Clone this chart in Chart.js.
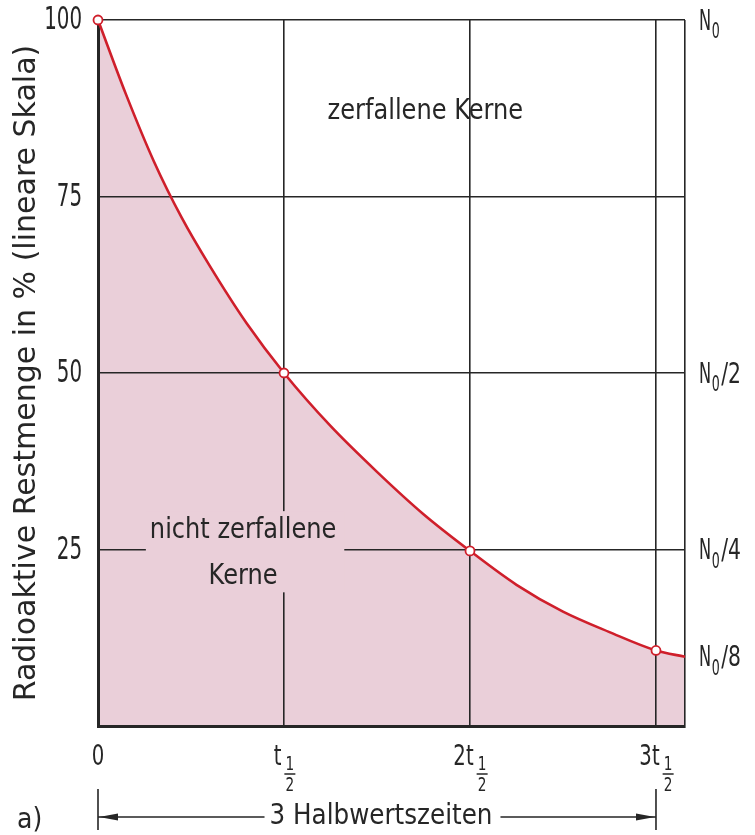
<!DOCTYPE html>
<html><head><meta charset="utf-8">
<script src="https://cdn.jsdelivr.net/npm/chart.js@4"></script>
<style>html,body{margin:0;padding:0;background:#fff;}#wrap{width:755px;height:835px;}</style>
</head><body><div id="wrap"><canvas id="c" width="755" height="835"></canvas></div>
<script>
// ---- data ----
const halfLives = [0, 0.15, 0.3, 0.45, 0.6, 0.8, 1, 1.25, 1.5, 1.75, 2, 2.25, 2.5, 2.75, 3, 3.156];
const remaining = [100, 89.5, 80, 72, 65.2, 57, 50, 42.5, 36, 30, 24.8, 20, 16.2, 13.3, 10.7, 9.8];
const markedHalfLives = [0, 1, 2, 3];
const xTickValues = [0, 1, 2, 3];
const xTickLabels = ['0', 't½', '2t½', '3t½'];
const yTickValues = [0, 25, 50, 75, 100];
const yTickLabels = ['', '25', '50', '75', '100'];
const rightLabels = ['N₀', 'N₀/2', 'N₀/4', 'N₀/8'];
const rightLabelValues = [100, 50, 25, 9.8];
const yTitle = 'Radioaktive Restmenge in % (lineare Skala)';
const areaLabels = [
  {text: 'zerfallene Kerne', x: 1.76, y: 87.0},
  {text: 'nicht zerfallene', x: 0.78, y: 27.6},
  {text: 'Kerne', x: 0.78, y: 21.2}
];
const spanLabel = '3 Halbwertszeiten';
const panelLabel = 'a)';

const xMax = halfLives[halfLives.length - 1];
const INK = '#262626';
const RED = '#cf1f2b';
const PINK = '#eacfd9';
const FAM = '"DejaVu Sans", sans-serif';

function txt(ctx, s, x, y, size, align, sx) {
  ctx.save();
  ctx.font = size + 'px ' + FAM;
  ctx.textBaseline = 'middle';
  ctx.textAlign = 'left';
  ctx.fillStyle = INK;
  const w = ctx.measureText(s).width * sx;
  const x0 = align === 'center' ? x - w / 2 : align === 'right' ? x - w : x;
  ctx.translate(x0, y);
  ctx.scale(sx, 1);
  ctx.fillText(s, 0, 0);
  ctx.restore();
  return w;
}
function txtW(ctx, s, size, sx) {
  ctx.save(); ctx.font = size + 'px ' + FAM;
  const w = ctx.measureText(s).width * sx; ctx.restore(); return w;
}

const decor = {
  id: 'decor',
  afterDraw(chart) {
    const ctx = chart.ctx;
    const xs = chart.scales.x, ys = chart.scales.y;
    const ca = chart.chartArea;

    // y tick labels (left)
    yTickValues.forEach((v, i) => {
      if (!yTickLabels[i]) return;
      txt(ctx, yTickLabels[i], ca.left - 16, ys.getPixelForValue(v) + 1, 32, 'right', 0.62);
    });

    // x tick labels with stacked 1/2 fraction
    xTickValues.forEach((v, i) => {
      const lab = xTickLabels[i];
      const px = xs.getPixelForValue(v);
      const hasFrac = lab.includes('½');
      const main = lab.replace('½', '');
      const mw = txtW(ctx, main, 29, 0.68);
      const fw = 11;
      const total = mw + (hasFrac ? 2 + fw : 0);
      const left = px - total / 2;
      txt(ctx, main, left, ca.bottom + 31, 29, 'left', 0.68);
      if (hasFrac) {
        const fx = left + mw + 3 + fw / 2;
        txt(ctx, '1', fx, ca.bottom + 39, 19, 'center', 0.72);
        ctx.save(); ctx.strokeStyle = INK; ctx.lineWidth = 1.5;
        ctx.beginPath(); ctx.moveTo(fx - fw / 2, ca.bottom + 48); ctx.lineTo(fx + fw / 2, ca.bottom + 48); ctx.stroke(); ctx.restore();
        txt(ctx, '2', fx, ca.bottom + 60, 19, 'center', 0.72);
      }
    });

    // right-hand labels N0, N0/2 ...
    rightLabels.forEach((lab, i) => {
      const py = ys.getPixelForValue(rightLabelValues[i]);
      const parts = lab.split('₀');
      let x = ca.right + 14;
      x += txt(ctx, parts[0], x, py + 2, 29, 'left', 0.56);
      x += txt(ctx, '0', x + 0.5, py + 13, 21, 'left', 0.6) + 1;
      if (parts[1]) txt(ctx, parts[1], x + 1, py + 2, 29, 'left', 0.7);
    });

    // area labels
    areaLabels.forEach((a, i) => {
      const px = xs.getPixelForValue(a.x), py = ys.getPixelForValue(a.y);
      if (i === 1) {
        const w = txtW(ctx, a.text, 28, 0.86);
        const py2 = ys.getPixelForValue(areaLabels[2].y);
        ctx.save(); ctx.fillStyle = PINK;
        ctx.fillRect(px - w / 2 - 4, py - 20, w + 12, (py2 - py) + 36);
        ctx.restore();
      }
      txt(ctx, a.text, px, py, 28, 'center', 0.86);
    });

    // bottom dimension arrow
    const x0 = xs.getPixelForValue(xTickValues[0]);
    const x3 = xs.getPixelForValue(xTickValues[3]);
    const ay = ca.bottom + 91;
    ctx.save(); ctx.strokeStyle = INK; ctx.fillStyle = INK; ctx.lineWidth = 1.6;
    ctx.beginPath();
    ctx.moveTo(x0, ca.bottom + 63); ctx.lineTo(x0, ca.bottom + 104);
    ctx.moveTo(x3, ca.bottom + 63); ctx.lineTo(x3, ca.bottom + 104);
    ctx.stroke();
    const cx = (x0 + x3) / 2 + 4;
    const tw = txtW(ctx, spanLabel, 28, 0.88);
    ctx.beginPath();
    ctx.moveTo(x0, ay); ctx.lineTo(cx - tw / 2 - 5, ay);
    ctx.moveTo(cx + tw / 2 + 8, ay); ctx.lineTo(x3, ay);
    ctx.stroke();
    ctx.beginPath(); ctx.moveTo(x0 + 1, ay); ctx.lineTo(x0 + 20, ay - 3.5); ctx.lineTo(x0 + 20, ay + 3.5); ctx.closePath(); ctx.fill();
    ctx.beginPath(); ctx.moveTo(x3 - 1, ay); ctx.lineTo(x3 - 20, ay - 3.5); ctx.lineTo(x3 - 20, ay + 3.5); ctx.closePath(); ctx.fill();
    ctx.restore();
    txt(ctx, spanLabel, cx, ay, 28, 'center', 0.88);
    txt(ctx, panelLabel, 17, ay + 4, 28, 'left', 0.9);
  }
};

new Chart(document.getElementById('c'), {
  type: 'line',
  data: {
    datasets: [{
      data: halfLives.map((t, i) => ({x: t, y: remaining[i]})),
      borderColor: RED,
      borderWidth: 2.6,
      backgroundColor: PINK,
      fill: 'origin',
      cubicInterpolationMode: 'monotone',
      clip: false,
      pointRadius: c => markedHalfLives.includes(c.raw.x) ? 4.5 : 0,
      pointHoverRadius: 0,
      pointBackgroundColor: '#ffffff',
      pointBorderColor: RED,
      pointBorderWidth: 1.8
    }]
  },
  options: {
    responsive: false,
    devicePixelRatio: 1,
    animation: false,
    events: [],
    layout: {padding: {top: 20, right: 70, bottom: 0, left: 0}},
    plugins: {
      legend: {display: false},
      tooltip: {enabled: false},
      filler: {drawTime: 'beforeDraw'}
    },
    scales: {
      x: {
        type: 'linear', min: 0, max: xMax,
        afterBuildTicks: s => { s.ticks = xTickValues.concat([xMax]).map(v => ({value: v})); },
        afterFit: s => { s.height = 109; s.paddingLeft = 0; s.paddingRight = 0; },
        ticks: {display: false},
        grid: {color: INK, lineWidth: 1.6, drawTicks: false},
        border: {color: INK, width: 3}
      },
      y: {
        min: 0, max: 100,
        afterBuildTicks: s => { s.ticks = yTickValues.map(v => ({value: v})); },
        afterFit: s => { s.width = 98; s.paddingTop = 0; s.paddingBottom = 0; },
        ticks: {display: false},
        grid: {color: INK, lineWidth: 1.6, drawTicks: false},
        border: {color: INK, width: 3},
        title: {
          display: true, text: yTitle, color: INK,
          font: {family: '"DejaVu Sans", sans-serif', size: 30},
          padding: {top: 9, bottom: 0}
        }
      }
    }
  },
  plugins: [decor]
});
</script>
</body></html>
